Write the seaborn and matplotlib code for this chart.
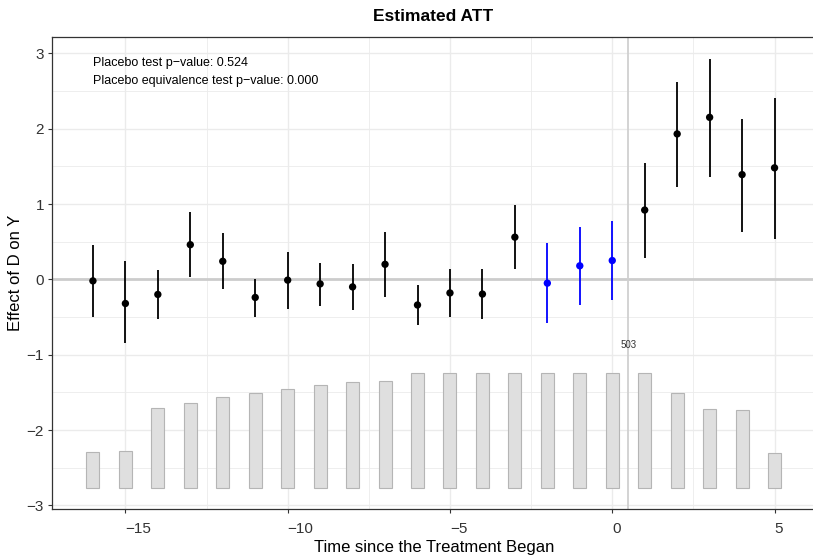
import numpy as np
import pandas as pd
import seaborn as sns
import matplotlib.pyplot as plt

# %%
periods = list(range(-16, 6))
att = [-0.02, -0.32, -0.20, 0.46, 0.24, -0.24, -0.01, -0.06, -0.10, 0.20, -0.34, -0.18,
       -0.195, 0.56, -0.05, 0.18, 0.25, 0.92, 1.93, 2.15, 1.39, 1.48]
ci_low = [-0.50, -0.85, -0.53, 0.03, -0.13, -0.50, -0.39, -0.35, -0.41, -0.23, -0.60, -0.50,
          -0.53, 0.14, -0.58, -0.345, -0.28, 0.29, 1.23, 1.36, 0.63, 0.54]
ci_high = [0.46, 0.24, 0.13, 0.89, 0.62, 0.01, 0.36, 0.22, 0.20, 0.63, -0.08, 0.14,
           0.14, 0.99, 0.48, 0.70, 0.78, 1.54, 2.62, 2.93, 2.13, 2.41]
placebo = [-2, -1, 0]   # placebo periods drawn in blue
n_obs = [158, 162, 350, 372, 398, 417, 433, 450, 464, 468, 503, 503,
         503, 503, 503, 503, 503, 503, 414, 345, 341, 153]
placebo_p = "0.524"
equiv_p = "0.000"

# %%
df = pd.DataFrame({"time": periods, "att": att, "lo": ci_low, "hi": ci_high, "n": n_obs})
df["grp"] = np.where(df["time"].isin(placebo), "placebo", "est")

# bars of observation counts sit under the estimates
bar_base = -2.762
bar_span = 1.52
df["bar"] = df["n"] / df["n"].max() * bar_span

plt.rcParams["font.family"] = ["Liberation Sans", "DejaVu Sans"]
fig = plt.figure(figsize=(8.13, 5.56), dpi=100)
ax = fig.add_axes([0.0636, 0.0845, 0.9398, 0.8495])

# grid
for v in np.arange(-3, 3.5, 0.5):
    ax.axhline(v, color="#ebebeb", lw=1.0 if v == int(v) else 0.6, zorder=0)
for v in np.arange(-17.5, 6.5, 2.5):
    ax.axvline(v, color="#ebebeb", lw=1.0 if v % 5 == 0 else 0.6, zorder=0)

sns.barplot(data=df, x="time", y="bar", native_scale=True, width=0.4,
            color="#dfdfdf", edgecolor="#b5b5b5", linewidth=0.8,
            bottom=bar_base, ax=ax, zorder=1)

ax.axhline(0, color="#cccccc", lw=2.0, zorder=2)
ax.axvline(0.5, color="#d0d0d0", lw=1.3, zorder=2)

colors = {"est": "black", "placebo": "#0000ff"}
for g, sub in df.groupby("grp"):
    ax.vlines(sub["time"], sub["lo"], sub["hi"], color=colors[g], lw=1.3, zorder=3)
sns.scatterplot(data=df, x="time", y="att", hue="grp", palette=colors, s=28,
                edgecolor="none", legend=False, ax=ax, zorder=4)

ax.text(0.5, -0.87, str(df["n"].max()), ha="center", va="center", fontsize=7, color="#333333")
ax.text(-16, 2.87, "Placebo test p\u2212value: " + placebo_p, ha="left", va="center",
        fontsize=9, color="black")
ax.text(-16, 2.63, "Placebo equivalence test p\u2212value: " + equiv_p, ha="left", va="center",
        fontsize=9, color="black")

ax.set_xlim(-17.27, 6.27)
ax.set_ylim(-3.047, 3.22)
ax.set_xticks([-15, -10, -5, 0, 5])
ax.set_yticks([-3, -2, -1, 0, 1, 2, 3])
ax.tick_params(length=3, width=0.8, color="#333333", labelsize=11, labelcolor="#333333")
ax.tick_params(axis="x", pad=6)
ax.tick_params(axis="y", pad=2.5)
for lab in ax.get_xticklabels():
    lab.set_horizontalalignment("left")
for s in ax.spines.values():
    s.set_color("#333333")
    s.set_linewidth(0.9)
ax.spines["right"].set_visible(False)
ax.set_facecolor("white")
ax.grid(False)

ax.set_xlabel("Time since the Treatment Began", fontsize=12, labelpad=3)
ax.set_ylabel("Effect of D on Y", fontsize=12, labelpad=2.5)
fig.text(0.5326, 0.971, "Estimated ATT", ha="center", va="center", fontsize=12.5, fontweight="bold")

fig.savefig("out.png", dpi=100)
